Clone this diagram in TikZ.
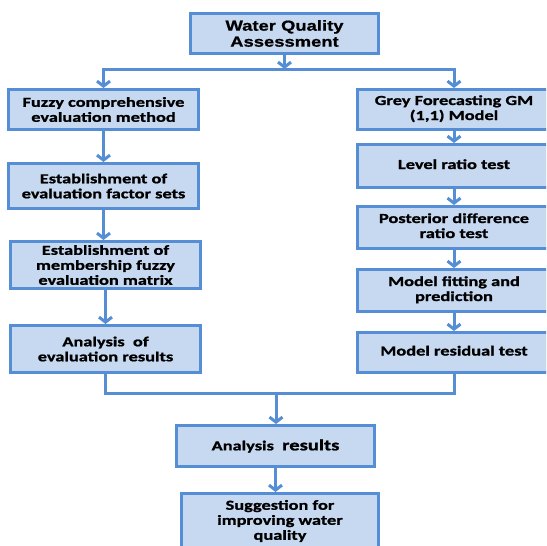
\documentclass[tikz,border=0pt]{standalone}
\usepackage{fontspec}
\setmainfont{Carlito}[FakeStretch=1.33,FakeBold=1.2]
\newfontfamily\topfont{Liberation Sans}[FakeStretch=1.27,FakeBold=0.8]
\usetikzlibrary{arrows.meta,shadows}
\definecolor{boxline}{RGB}{85,142,213}
\definecolor{boxfill}{RGB}{198,217,241}
\newcommand{\rtext}[1]{\begin{tabular}{@{}c@{}}#1\end{tabular}\hspace*{15pt}}
\begin{document}
\begin{tikzpicture}[x=1pt,y=-1pt,
  box/.style={draw=boxline,fill=boxfill,line width=3pt,inner sep=0pt,align=center,
    font=\fontsize{13.8}{15}\selectfont\bfseries,text=black,
    drop shadow={shadow xshift=1pt,shadow yshift=-1.5pt,opacity=0.25}},
  topbox/.style={box,font=\topfont\fontsize{14.5}{16}\selectfont\bfseries},
  rbox/.style={box,minimum width=208},
  link/.style={draw=boxline,line width=3pt},
  arr/.style={link,-{Straight Barb[length=5pt,width=13pt]}}]
\useasboundingbox (0,0) rectangle (546,546);
\clip (0,0) rectangle (546,546);
\fill[white] (0,0) rectangle (546,546);

\node[topbox,minimum width=188,minimum height=40] (top) at (284.5,33.5) {Water Quality\\Assessment};

\node[box,minimum width=190,minimum height=40] (L1) at (103.5,109.5) {Fuzzy comprehensive\\evaluation method};
\node[box,minimum width=190,minimum height=45] (L2) at (103.5,186) {Establishment of\\evaluation factor sets};
\node[box,minimum width=190,minimum height=47] (L3) at (105.5,265) {Establishment of\\membership fuzzy\\evaluation matrix};
\node[box,minimum width=190,minimum height=47] (L4) at (105.5,349) {Analysis\ \ of\\evaluation results};

\node[rbox,minimum height=40] (R1) at (461.5,109.5) {\rtext{Grey Forecasting GM\\(1,1) Model}};
\node[rbox,minimum height=43] (R2) at (461.5,166) {\rtext{Level ratio test}};
\node[rbox,minimum height=42] (R3) at (461.5,227.5) {\rtext{Posterior difference\\ratio test}};
\node[rbox,minimum height=42] (R4) at (461.5,290.5) {\rtext{Model fitting and\\prediction}};
\node[rbox,minimum height=40] (R5) at (461.5,352.5) {\rtext{Model residual test}};

\node[box,minimum width=198,minimum height=41] (AR) at (275.5,446) {Analysis\ \ {\fontsize{15.5}{17}\selectfont results}};
\node[box,minimum width=197,minimum height=55] (SG) at (280,521) {Suggestion for\\improving water\\quality};

\coordinate (j1) at (285,69);
\coordinate (j2) at (276,393);
\coordinate (rx) at (454,0);

\draw[arr] (top.south) -- (top.south |- j1);
\draw[arr] (j1) -| (L1.north);
\draw[arr] (j1) -| (rx |- R1.north);

\draw[arr] (L1.south) -- (L1.south |- L2.north);
\draw[arr] (L2.south) -- (L2.south |- L3.north);
\draw[arr] (L3.south) -- (L3.south |- L4.north);

\draw[arr] (rx |- R1.south) -- (rx |- R2.north);
\draw[arr] (rx |- R2.south) -- (rx |- R3.north);
\draw[arr] (rx |- R3.south) -- (rx |- R4.north);
\draw[arr] (rx |- R4.south) -- (rx |- R5.north);

\draw[link] (L4.south) |- (j2);
\draw[link] (rx |- R5.south) |- (j2);
\draw[arr] (j2) -- (j2 |- AR.north);
\draw[arr] (AR.south) -- (AR.south |- SG.north);
\end{tikzpicture}
\end{document}
